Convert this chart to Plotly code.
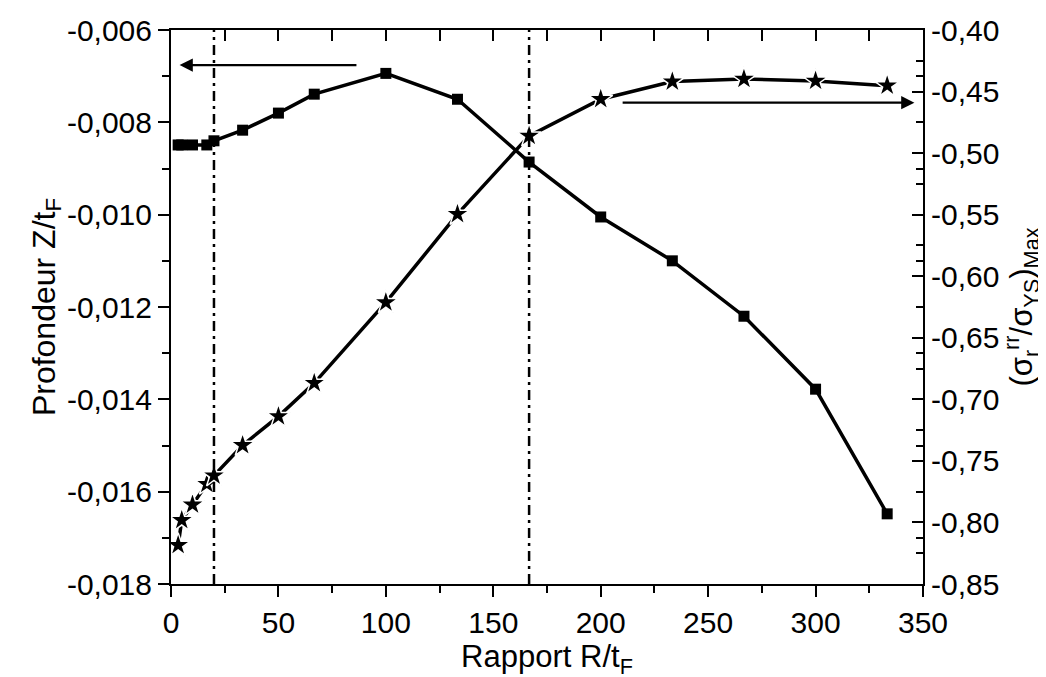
import plotly.graph_objects as go

# Data
ratio = [3.33, 5, 10, 16.67, 20, 33.33, 50, 66.67, 100, 133.33, 166.67, 200, 233.33, 266.67, 300, 333.33]
depth = [-0.00849, -0.00849, -0.00849, -0.00849, -0.00840, -0.00817, -0.00780, -0.00739, -0.00694,
         -0.00750, -0.00886, -0.01005, -0.01100, -0.01220, -0.01378, -0.01648]
stress = [-0.8185, -0.7982, -0.7856, -0.7688, -0.7620, -0.7373, -0.7138, -0.6868, -0.6213,
          -0.5496, -0.4860, -0.4562, -0.4419, -0.4398, -0.4414, -0.4452]

left_ticks = [-0.018, -0.016, -0.014, -0.012, -0.010, -0.008, -0.006]
left_labels = ["-0,018", "-0,016", "-0,014", "-0,012", "-0,010", "-0,008", "-0,006"]
right_ticks = [-0.85, -0.80, -0.75, -0.70, -0.65, -0.60, -0.55, -0.50, -0.45, -0.40]
right_labels = ["-0,85", "-0,80", "-0,75", "-0,70", "-0,65", "-0,60", "-0,55", "-0,50", "-0,45", "-0,40"]
x_ticks = [0, 50, 100, 150, 200, 250, 300, 350]

ref_lines_x = [20, 166.67]
left_arrow = dict(tail_x=87, head_x=4, y=-0.00676)
right_arrow = dict(tail_x=209.5, head_x=346, y=-0.459)

FONT = "Liberation Sans, Arial, sans-serif"

fig = go.Figure()
fig.add_trace(go.Scatter(
    x=ratio, y=depth, mode="lines+markers",
    line=dict(color="black", width=3.5),
    marker=dict(symbol="square", size=11, color="black"),
    showlegend=False, xaxis="x", yaxis="y"))
fig.add_trace(go.Scatter(
    x=ratio, y=stress, mode="lines+markers",
    line=dict(color="black", width=3.5),
    marker=dict(symbol="star", size=18, color="black", line=dict(color="white", width=1.5)),
    showlegend=False, xaxis="x", yaxis="y2"))
# empty helper traces so the mirror axes get drawn
fig.add_trace(go.Scatter(x=[], y=[], xaxis="x2", yaxis="y", showlegend=False))
fig.add_trace(go.Scatter(x=[], y=[], xaxis="x", yaxis="y3", showlegend=False))

for xv in ref_lines_x:
    fig.add_shape(type="line", xref="x", yref="paper", x0=xv, x1=xv, y0=0, y1=1,
                  line=dict(color="black", width=2.5, dash="10px,5px,3px,5px"))

fig.add_annotation(x=left_arrow["head_x"], y=left_arrow["y"], ax=left_arrow["tail_x"], ay=left_arrow["y"],
                   xref="x", yref="y", axref="x", ayref="y", text="", showarrow=True,
                   arrowhead=2, arrowsize=1.2, arrowwidth=2.2, arrowcolor="black")
fig.add_annotation(x=right_arrow["head_x"], y=right_arrow["y"], ax=right_arrow["tail_x"], ay=right_arrow["y"],
                   xref="x", yref="y2", axref="x", ayref="y2", text="", showarrow=True,
                   arrowhead=2, arrowsize=1.2, arrowwidth=2.2, arrowcolor="black")

axis_common = dict(showgrid=False, zeroline=False, linecolor="black", linewidth=2,
                   tickcolor="black", tickwidth=2, automargin=False)

fig.update_layout(
    width=1046, height=677,
    margin=dict(l=163, r=131, t=22, b=101, autoexpand=False),
    plot_bgcolor="white", paper_bgcolor="white",
    font=dict(family=FONT, size=30, color="black"),
    xaxis=dict(range=[0, 350], tickvals=x_ticks, ticks="outside", ticklen=11,
               minor=dict(dtick=25, ticks="outside", ticklen=7, tickwidth=2, tickcolor="black"),
               showline=True, anchor="y",
               title=dict(text="Rapport R/t<sub>F</sub>", font=dict(size=31), standoff=2),
               tickfont=dict(size=30), **axis_common),
    xaxis2=dict(range=[0, 350], overlaying="x", side="top", anchor="y", dtick=25, tick0=0,
                ticks="inside", ticklen=11, showticklabels=False, showline=True, **axis_common),
    yaxis=dict(range=[-0.018, -0.006], tickvals=left_ticks, ticktext=left_labels,
               ticks="outside", ticklen=11, showline=True, anchor="x",
               minor=dict(dtick=0.001, ticks="outside", ticklen=7, tickwidth=2, tickcolor="black"),
               title=dict(text="Profondeur Z/t<sub>F</sub>", font=dict(size=32), standoff=2),
               tickfont=dict(size=30), **axis_common),
    yaxis2=dict(range=[-0.85, -0.40], overlaying="y", side="right", anchor="x",
                tickvals=right_ticks, ticktext=right_labels,
                ticks="inside", ticklen=11, showline=True,
                minor=dict(dtick=0.025, tick0=-0.85, ticks="inside", ticklen=7, tickwidth=2, tickcolor="black"),
                title=dict(text="(σ<sub>r</sub><sup>rr</sup>/σ<sub>YS</sub>)<sub>Max</sub>",
                           font=dict(size=31), standoff=6),
                tickfont=dict(size=30), **axis_common),
    yaxis3=dict(range=[-0.018, -0.006], overlaying="y", side="right", anchor="x",
                dtick=0.001, tick0=-0.018, ticks="inside", ticklen=7, showticklabels=False,
                showline=False, showgrid=False, zeroline=False, tickcolor="black", tickwidth=2,
                automargin=False),
)

fig.write_html("out.html")
